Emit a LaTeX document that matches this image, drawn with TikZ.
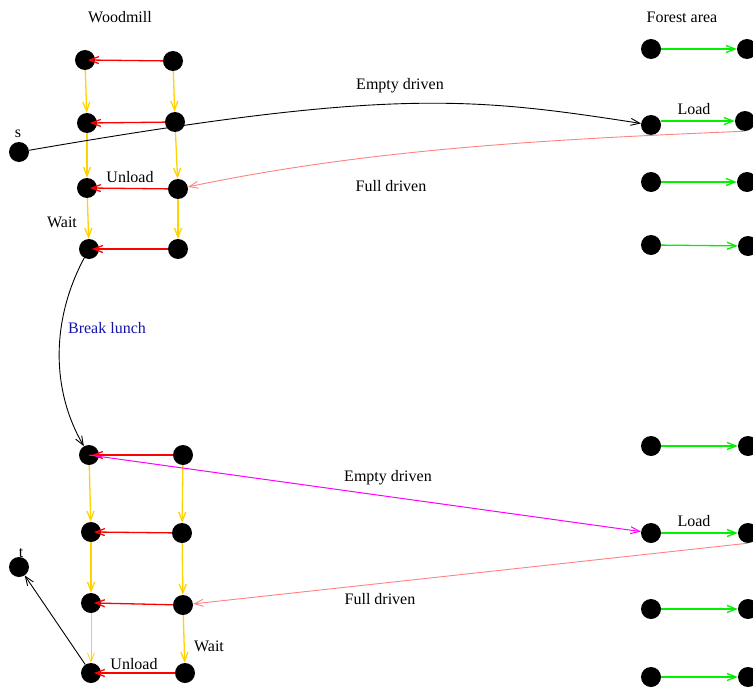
\documentclass[tikz,border=0pt]{standalone}
\usepackage{fontspec}
\setmainfont{Liberation Serif}
\usetikzlibrary{arrows.meta,calc}
\definecolor{cred}{RGB}{255,0,0}
\definecolor{cyel}{RGB}{255,210,0}
\definecolor{cgreen}{RGB}{0,240,0}
\definecolor{cpink}{RGB}{255,130,130}
\definecolor{cmag}{RGB}{255,0,255}
\definecolor{cblue}{RGB}{20,20,170}
\begin{document}
\begin{tikzpicture}[x=1pt,y=-1pt,
  dot/.style={circle,fill=black,minimum size=20pt,inner sep=0pt},
  lbl/.style={anchor=base,font=\fontsize{16}{19}\selectfont,inner sep=0pt},
  barb/.style={-{Straight Barb[length=9pt,width=7pt]}},
  unloadarr/.style={barb,draw=cred,line width=1.3pt},
  waitarr/.style={barb,draw=cyel,line width=1.3pt},
  loadarr/.style={barb,draw=cgreen,line width=1.3pt},
  fullarr/.style={barb,draw=cpink,line width=0.9pt},
  emptyarr/.style={barb,draw=black,line width=0.9pt},
  magarr/.style={barb,draw=cmag,line width=1pt}]
\clip (0,0) rectangle (753,688);
% woodmill top
\node[dot] (wl1) at (85,60) {};
\node[dot] (wl2) at (87,123) {};
\node[dot] (wl3) at (87,188) {};
\node[dot] (wl4) at (89,249) {};
\node[dot] (wr1) at (173,61) {};
\node[dot] (wr2) at (175,122) {};
\node[dot] (wr3) at (178,189) {};
\node[dot] (wr4) at (178,249) {};
\node[dot] (s) at (19,152) {};
% forest top
\node[dot] (fl1) at (651,49) {};
\node[dot] (fl2) at (651,125) {};
\node[dot] (fl3) at (651,182) {};
\node[dot] (fl4) at (651,245) {};
\node[dot] (fr1) at (747,49) {};
\node[dot] (fr2) at (745,121) {};
\node[dot] (fr3) at (747,182) {};
\node[dot] (fr4) at (748,246) {};
% woodmill bottom
\node[dot] (bl1) at (89,455) {};
\node[dot] (bl2) at (91,532) {};
\node[dot] (bl3) at (91,603) {};
\node[dot] (bl4) at (91,673) {};
\node[dot] (br1) at (183,455) {};
\node[dot] (br2) at (182,533) {};
\node[dot] (br3) at (183,605) {};
\node[dot] (br4) at (185,673) {};
\node[dot] (t) at (19,567) {};
% forest bottom
\node[dot] (gl1) at (651,446) {};
\node[dot] (gl2) at (651,533) {};
\node[dot] (gl3) at (651,609) {};
\node[dot] (gl4) at (651,677) {};
\node[dot] (gr1) at (748,446) {};
\node[dot] (gr2) at (748,533) {};
\node[dot] (gr3) at (748,609) {};
\node[dot] (gr4) at (748,677) {};

% labels
\node[lbl] (lwood) at (120,23) {Woodmill};
\node[lbl] (lforest) at (682,23) {Forest area};
\node[lbl] (ls) at (18,137) {s};
\node[lbl] (lt) at (21,557) {t};
\node[lbl] (lempty1) at (400,89) {Empty driven};
\node[lbl] (lload1) at (694,114) {Load};
\node[lbl] (lfull1) at (391,191) {Full driven};
\node[lbl] (lunload1) at (130,182) {Unload};
\node[lbl] (lwait1) at (62,227) {Wait};
\node[lbl,text=cblue] (lbreak) at (107,333) {Break lunch};
\node[lbl] (lempty2) at (388,481) {Empty driven};
\node[lbl] (lload2) at (694,526) {Load};
\node[lbl] (lfull2) at (380,604) {Full driven};
\node[lbl] (lwait2) at (209,651) {Wait};
\node[lbl] (lunload2) at (134,669) {Unload};

% wait (yellow) arrows
\foreach \a/\b in {wl1/wl2,wl2/wl3,wl3/wl4,wr1/wr2,wr2/wr3,wr3/wr4,
                   bl1/bl2,bl2/bl3,br1/br2,br2/br3,br3/br4}
  \draw[waitarr] (\a) -- (\b);
\draw[waitarr,line width=0.8pt] (bl3) -- (bl4);
% load (green) arrows
\foreach \a/\b in {fl1/fr1,fl3/fr3,fl4/fr4,gl1/gr1,gl2/gr2,gl3/gr3,gl4/gr4}
  \draw[loadarr] (\a) -- (\b);
\draw[loadarr] ([yshift=4pt]fl2.east) -- (fr2.west);
% unload (red) arrows
\foreach \a/\b in {wr1/wl1,wr2/wl2,wr3/wl3,wr4/wl4,br1/bl1,br2/bl2,br3/bl3,br4/bl4}
  \draw[unloadarr] (\a) -- ([xshift=3pt]\b.center);

% empty driven (top)
\draw[emptyarr] (s) .. controls (390,88) and (470,97) .. (fl2);
% full driven (top)
\draw[fullarr] (fr2.south) .. controls (559,139) and (373,148) .. (wr3);
% break lunch
\draw[emptyarr] (wl4) .. controls (51,320) and (51,390) .. (bl1);
% empty driven (bottom)
\draw[magarr] (bl1.center) -- (gl2);
% full driven (bottom)
\draw[fullarr] (gr2.south) -- (br3);
% to t
\draw[emptyarr] (bl4) -- (t);
\end{tikzpicture}
\end{document}
